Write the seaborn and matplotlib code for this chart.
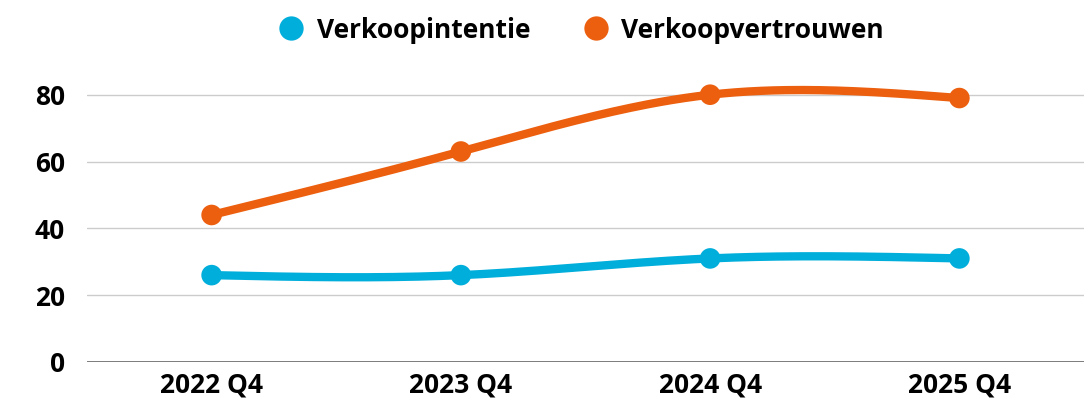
import numpy as np
import pandas as pd
import matplotlib
matplotlib.use("Agg")
import matplotlib.pyplot as plt
import seaborn as sns
from matplotlib.lines import Line2D

categories = ["2022 Q4", "2023 Q4", "2024 Q4", "2025 Q4"]
verkoopintentie = [26, 26, 31, 31]
verkoopvertrouwen = [44, 63, 80, 79]
series_names = ["Verkoopintentie", "Verkoopvertrouwen"]
colors = ["#00AEDB", "#EC5F0E"]

sns.set_theme(style="white")
plt.rcParams["font.family"] = ["Open Sans", "DejaVu Sans"]

fig = plt.figure(figsize=(10.84, 4.01), dpi=100)
ax = fig.add_axes([87 / 1084, 39 / 401, 1 - 87 / 1084, (362 - 78) / 401])


def natural_spline(y, n=60):
    """Natural cubic spline through equally spaced points (drawing style only)."""
    y = np.asarray(y, float)
    m = len(y)
    A = np.zeros((m, m))
    b = np.zeros(m)
    A[0, 0] = A[-1, -1] = 1
    for i in range(1, m - 1):
        A[i, i - 1], A[i, i], A[i, i + 1] = 1, 4, 1
        b[i] = 6 * (y[i + 1] - 2 * y[i] + y[i - 1])
    M = np.linalg.solve(A, b)
    xs, ys = [], []
    for i in range(m - 1):
        t = np.linspace(0, 1, n)
        yy = ((1 - t) * y[i] + t * y[i + 1]
              + ((1 - t) ** 3 - (1 - t)) * M[i] / 6
              + (t ** 3 - t) * M[i + 1] / 6)
        xs.append(i + t)
        ys.append(yy)
    return np.concatenate(xs), np.concatenate(ys)


xpos = np.arange(len(categories))
for name, vals, col in zip(series_names, [verkoopintentie, verkoopvertrouwen], colors):
    sx, sy = natural_spline(vals)
    sns.lineplot(x=sx, y=sy, ax=ax, color=col, linewidth=6, sort=False,
                 solid_capstyle="round", zorder=3)
    sns.scatterplot(x=xpos, y=vals, ax=ax, color=col, s=220, edgecolor="none",
                    zorder=4)

ax.set_xlim(-0.5, len(categories) - 0.5)
ax.set_ylim(0, 85)
ax.set_xticks(xpos)
ax.set_xticklabels(categories)
ax.set_yticks([0, 20, 40, 60, 80])
for y in [20, 40, 60, 80]:
    ax.axhline(y, color="#CCCCCC", linewidth=1, zorder=1)
ax.axhline(0, color="#666666", linewidth=1.2, zorder=2)
for s in ax.spines.values():
    s.set_visible(False)
ax.tick_params(axis="both", length=0, labelsize=19)
ax.tick_params(axis="y", pad=16)
ax.tick_params(axis="x", pad=7)
for lab in ax.get_xticklabels() + ax.get_yticklabels():
    lab.set_fontweight("bold")
    lab.set_color("#000000")
ax.set_xlabel("")
ax.set_ylabel("")

handles = [Line2D([0], [0], marker="o", linestyle="none", markersize=17.5,
                  markerfacecolor=c, markeredgecolor="none") for c in colors]
leg = fig.legend(handles, series_names, loc="center",
                 bbox_to_anchor=(581 / 1084, 1 - 30 / 401),
                 ncol=2, frameon=False, prop={"size": 19, "weight": "bold"},
                 handletextpad=0.45, columnspacing=2.0, handlelength=1.0)
for t in leg.get_texts():
    t.set_color("#000000")

fig.savefig("out.png", dpi=100)
